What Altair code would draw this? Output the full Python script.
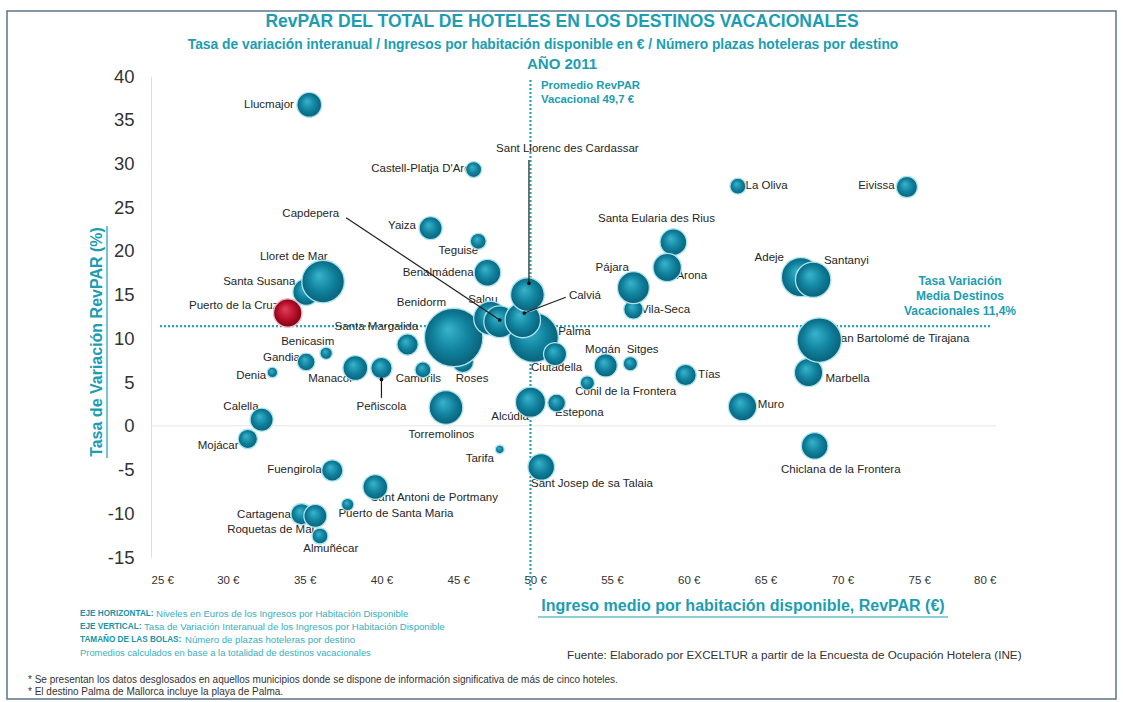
import altair as alt
import pandas as pd

FONT = "Liberation Sans"
TEAL = "#1c9db1"

# ---------------- data ----------------
names = ["Santa Susana", "Roses", "Benidorm", "Palma", "Salou", "Capdepera", "Calviá",
         "Sant Llorenc des Cardassar", "Ciutadella", "Lloret de Mar", "Puerto de la Cruz",
         "Marbella", "San Bartolomé de Tirajana", "Adeje", "Santanyi", "Santa Eularia des Rius",
         "Arona", "Vila-Seca", "Pájara", "Llucmajor", "Castell-Platja D'Aro", "La Oliva", "Eivissa",
         "Yaiza", "Teguise", "Benalmádena", "Santa Margalida", "Benicasim", "Gandia", "Denia",
         "Manacor", "Peñiscola", "Cambrils", "Calella", "Mojácar", "Torremolinos", "Alcúdia",
         "Estepona", "Conil de la Frontera", "Mogán", "Sitges", "Tías", "Muro",
         "Chiclana de la Frontera", "Tarifa", "Sant Josep de sa Talaia", "Fuengirola",
         "Sant Antoni de Portmany", "Puerto de Santa Maria", "Cartagena", "Roquetas de Mar", "Almuñécar"]

revpar = [35.1, 45.3, 44.7, 49.9, 47.1, 47.7, 49.2, 49.5, 51.3, 36.2, 33.9, 67.8, 68.5, 67.3, 68.1,
          59.0, 58.6, 56.4, 56.4, 35.3, 46.0, 63.2, 74.2, 43.2, 46.3, 46.9, 41.7, 36.4, 35.1, 32.9,
          38.3, 40.0, 42.7, 32.2, 31.3, 44.2, 49.7, 51.4, 53.4, 54.6, 56.2, 59.8, 63.5, 68.2, 47.7,
          50.4, 36.8, 39.6, 37.8, 34.8, 35.7, 36.0]

variacion = [15.3, 7.3, 10.1, 10.1, 12.3, 11.9, 12.1, 15.0, 8.2, 16.5, 12.9, 6.1, 9.8, 17.0, 16.7,
             21.0, 18.1, 13.3, 15.8, 36.7, 29.3, 27.4, 27.3, 22.6, 21.1, 17.5, 9.3, 8.3, 7.3, 6.1,
             6.6, 6.6, 6.4, 0.7, -1.5, 2.1, 2.7, 2.6, 4.9, 6.9, 7.1, 5.8, 2.2, -2.3, -2.7, -4.7,
             -5.1, -7.0, -9.0, -10.1, -10.3, -12.6]

plazas = [8300, 5300, 40000, 28800, 13300, 11900, 14700, 13300, 6200, 21200, 9400, 9400, 23000,
          17800, 14700, 8300, 9400, 4400, 11900, 7200, 3000, 3000, 5300, 6200, 3000, 8300, 5300,
          1800, 3700, 1300, 7200, 5300, 3000, 6200, 4400, 13300, 10600, 3700, 2400, 6200, 2400,
          5300, 9400, 8300, 900, 8300, 5300, 7200, 1800, 5300, 6200, 3000]

# label anchor positions (in data units) and alignment
lab_x = [34.4, 45.9, 44.2, 51.5, 46.6, 35.4, 52.2, 52.1, 51.4, 36.5, 33.3, 68.9, 69.4, 66.2, 68.8,
         57.9, 59.2, 56.9, 56.1, 34.3, 45.8, 63.7, 73.4, 42.25, 46.3, 46.0, 42.4, 35.2, 34.7, 32.5,
         38.15, 40.0, 42.4, 32.0, 30.7, 43.9, 49.6, 51.3, 55.9, 54.4, 57.0, 60.6, 64.5, 69.9, 46.4,
         53.7, 36.1, 39.3, 37.2, 34.1, 35.7, 36.7]
lab_y = [16.5, 5.4, 14.1, 10.7, 14.4, 24.2, 14.9, 31.7, 6.6, 19.3, 13.7, 5.3, 9.9, 19.2, 18.9,
         23.7, 17.1, 13.3, 18.1, 36.7, 29.4, 27.4, 27.4, 22.9, 20.0, 17.5, 11.3, 9.6, 7.8, 5.7,
         5.3, 2.2, 5.4, 2.1, -2.3, -1.1, 1.0, 1.5, 3.9, 8.7, 8.7, 5.8, 2.4, -5.0, -3.8, -6.7,
         -5.0, -8.2, -10.1, -10.2, -11.9, -14.1]
lab_align = ["right", "center", "right", "left", "center", "center", "left", "center", "center",
             "right", "right", "left", "left", "right", "left", "center", "left", "left", "right",
             "right", "right", "left", "right", "right", "right", "right", "right", "center",
             "right", "right", "right", "center", "center", "right", "right", "center", "right",
             "left", "center", "center", "center", "left", "left", "center", "center", "center",
             "right", "left", "left", "right", "right", "center"]

highlight = "Puerto de la Cruz"

# leader arrows (data units)
arrow_x1 = [49.6, 37.7, 52.0, 40.0]
arrow_y1 = [30.4, 23.8, 14.7, 3.2]
arrow_x2 = [49.6, 47.7, 49.3, 40.0]
arrow_y2 = [16.3, 12.1, 12.9, 5.3]

promedio_revpar = 49.7
media_variacion = 11.4

x_ticks = [25, 30, 35, 40, 45, 50, 55, 60, 65, 70, 75, 80]
y_ticks = [-15, -10, -5, 0, 5, 10, 15, 20, 25, 30, 35, 40]

assert len(names) == len(revpar) == len(variacion) == len(plazas) == len(lab_x) == len(lab_y) == len(lab_align)

df = pd.DataFrame({"name": names, "revpar": revpar, "var": variacion, "plazas": plazas,
                   "lx": lab_x, "ly": lab_y, "align": lab_align})
arrows = pd.DataFrame({"x1": arrow_x1, "y1": arrow_y1, "x2": arrow_x2, "y2": arrow_y2})

# ---------------- scales / axes ----------------
W, H = 845, 481
L, T = 151, 76
xs = alt.Scale(domain=[25, 80], nice=False, zero=False)
ys = alt.Scale(domain=[-15, 40], nice=False, zero=False)
AX = alt.Axis(values=x_ticks, labelExpr="datum.value + ' €'", title=None, grid=False, domain=False,
              ticks=False, labelFontSize=11.5, labelColor="#333333", labelPadding=17, labelFont=FONT)
AY = alt.Axis(values=y_ticks, title=None, grid=False, domainColor="#dddddd", ticks=False,
              labelExpr="datum.value < 0 ? '-' + abs(datum.value) : '' + datum.value",
              labelFontSize=18.5, labelColor="#333333", labelPadding=17, labelFont=FONT)


def X(f):
    return alt.X(f, type="quantitative", scale=xs, axis=AX)


def Y(f):
    return alt.Y(f, type="quantitative", scale=ys, axis=AY)


size_scale = alt.Scale(type="linear", domain=[0, 40000], range=[0, 3421])

one = alt.Data(values=[{}])


def ann(text, px, py, **kw):
    return alt.Chart(one).mark_text(text=text, font=FONT, **kw).encode(
        x=alt.value(px - L), y=alt.value(py - T))


# ---------------- layers ----------------
zero_line = alt.Chart(pd.DataFrame({"v": [0]})).mark_rule(color="#e6e6e6", strokeWidth=1).encode(
    y=Y("v"), x=alt.value(0), x2=alt.value(W))

vline = alt.Chart(pd.DataFrame({"v": [promedio_revpar]})).mark_rule(
    color="#2aa3b6", strokeWidth=2.2, strokeDash=[2, 2]).encode(
    x=X("v"), y=alt.value(4), y2=alt.value(516))

hline = alt.Chart(pd.DataFrame({"v": [media_variacion]})).mark_rule(
    color="#2aa3b6", strokeWidth=2.2, strokeDash=[2, 2]).encode(
    y=Y("v"), x=alt.value(9), x2=alt.value(839))

labels = []
for a in ["left", "center", "right"]:
    labels.append(alt.Chart(df).transform_filter(alt.datum.align == a).mark_text(
        align=a, baseline="middle", font=FONT, fontSize=11.5, color="#262626").encode(
        x=X("lx"), y=Y("ly"), text="name:N"))

teal_grad = {"gradient": "radial", "x1": 0.4, "y1": 0.35, "r1": 0.0, "x2": 0.5, "y2": 0.5, "r2": 0.55,
             "stops": [{"offset": 0, "color": "#3ab4cd"}, {"offset": 0.55, "color": "#10829e"},
                       {"offset": 1, "color": "#095b72"}]}
red_grad = {"gradient": "radial", "x1": 0.4, "y1": 0.35, "r1": 0.0, "x2": 0.5, "y2": 0.5, "r2": 0.55,
            "stops": [{"offset": 0, "color": "#e0405a"}, {"offset": 0.55, "color": "#b8102c"},
                      {"offset": 1, "color": "#70000f"}]}

bubbles = alt.Chart(df).transform_filter(alt.datum.name != highlight).mark_circle(
    fill=teal_grad, opacity=1, stroke="#a8e4ef", strokeWidth=1.3).encode(
    x=X("revpar"), y=Y("var"), size=alt.Size("plazas:Q", scale=size_scale, legend=None))

red = alt.Chart(df).transform_filter(alt.datum.name == highlight).mark_circle(
    fill=red_grad, opacity=1, stroke="#f2b8c2", strokeWidth=1.3).encode(
    x=X("revpar"), y=Y("var"), size=alt.Size("plazas:Q", scale=size_scale, legend=None))

arrow_lines = alt.Chart(arrows).mark_rule(color="#1e1e1e", strokeWidth=1.2).encode(
    x=X("x1"), y=Y("y1"), x2="x2:Q", y2="y2:Q")
arrow_dots = alt.Chart(arrows).mark_circle(color="#111111", size=14, opacity=1).encode(
    x=X("x2"), y=Y("y2"))

# texts
texts = [
    ann("RevPAR DEL TOTAL DE HOTELES EN LOS DESTINOS VACACIONALES", 562, 22, fontSize=17.5,
        fontWeight="bold", color=TEAL, align="center", baseline="middle"),
    ann("Tasa de variación interanual / Ingresos por habitación disponible en € / Número plazas hoteleras por destino",
        543, 45, fontSize=13.8, fontWeight="bold", color=TEAL, align="center", baseline="middle"),
    ann("AÑO 2011", 562, 64, fontSize=15, fontWeight="bold", color=TEAL, align="center", baseline="middle"),
    ann("Promedio RevPAR", 541, 86, fontSize=11.3, fontWeight="bold", color=TEAL, align="left", baseline="middle"),
    ann("Vacacional 49,7 €", 541, 100, fontSize=11.3, fontWeight="bold", color=TEAL, align="left", baseline="middle"),
    ann("Tasa Variación", 960, 281, fontSize=12, fontWeight="bold", color=TEAL, align="center", baseline="middle"),
    ann("Media Destinos", 960, 296, fontSize=12, fontWeight="bold", color=TEAL, align="center", baseline="middle"),
    ann("Vacacionales  11,4%", 960, 311, fontSize=12, fontWeight="bold", color=TEAL, align="center", baseline="middle"),
    ann("Tasa de Variación RevPAR (%)", 97, 342, fontSize=16, fontWeight="bold", color=TEAL,
        align="center", baseline="middle", angle=270),
    ann("Ingreso medio por habitación disponible, RevPAR (€)", 743, 606, fontSize=16, fontWeight="bold",
        color=TEAL, align="center", baseline="middle"),
    ann("EJE HORIZONTAL:", 80, 614, fontSize=8.2, fontWeight="bold", color="#1a93a8", align="left", baseline="middle"),
    ann("Niveles en Euros de los Ingresos por Habitación Disponible", 156, 614, fontSize=9.6,
        color="#3aaec0", align="left", baseline="middle"),
    ann("EJE VERTICAL:", 80, 627, fontSize=8.2, fontWeight="bold", color="#1a93a8", align="left", baseline="middle"),
    ann("Tasa de Variación Interanual de los Ingresos por Habitación Disponible", 144, 627, fontSize=9.6,
        color="#3aaec0", align="left", baseline="middle"),
    ann("TAMAÑO DE LAS BOLAS:", 80, 640, fontSize=8.2, fontWeight="bold", color="#1a93a8", align="left", baseline="middle"),
    ann("Número de plazas hoteleras por destino", 185, 640, fontSize=9.6, color="#3aaec0",
        align="left", baseline="middle"),
    ann("Promedios calculados en base a la totalidad de destinos vacacionales", 80, 653, fontSize=9.4,
        color="#3aaec0", align="left", baseline="middle"),
    ann("Fuente: Elaborado por EXCELTUR a partir de la Encuesta de Ocupación Hotelera (INE)", 567, 655,
        fontSize=11.7, color="#333333", align="left", baseline="middle"),
    ann("* Se presentan los datos desglosados en aquellos municipios donde se dispone de información significativa de más de cinco hoteles.",
        28, 680, fontSize=10, color="#333333", align="left", baseline="middle"),
    ann("* El destino Palma de Mallorca incluye la playa de Palma.", 28, 692, fontSize=10, color="#333333",
        align="left", baseline="middle"),
]

underline_x = alt.Chart(one).mark_rule(color=TEAL, strokeWidth=1.2).encode(
    x=alt.value(538 - L), x2=alt.value(948 - L), y=alt.value(617 - T))
underline_y = alt.Chart(one).mark_rule(color=TEAL, strokeWidth=1.2).encode(
    x=alt.value(107 - L), y=alt.value(226 - T), y2=alt.value(458 - T))

frame = alt.Chart(one).mark_rect(fill="transparent", stroke="#5b7489", strokeWidth=1.5).encode(
    x=alt.value(7 - L), x2=alt.value(1116 - L), y=alt.value(11 - T), y2=alt.value(699 - T))

chart = alt.layer(
    frame, zero_line, vline, hline, *labels, bubbles, red, arrow_lines, arrow_dots,
    *texts, underline_x, underline_y
).properties(
    width=W, height=H,
    autosize=alt.AutoSizeParams(type="none"),
    padding={"left": L, "top": T, "right": 1123 - L - W, "bottom": 702 - T - H},
    background="white",
).configure_view(stroke=None)

chart.save("out.html", embed_options={"renderer": "svg", "actions": False})
